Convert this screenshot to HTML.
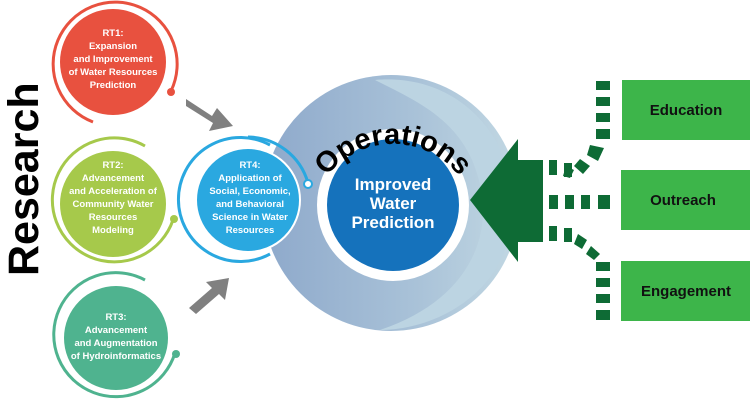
<!DOCTYPE html>
<html><head><style>
html,body{margin:0;padding:0;background:#fff;}
svg{display:block;font-family:"Liberation Sans",sans-serif;}
</style></head><body>
<svg width="750" height="400" viewBox="0 0 750 400">
<defs>
<linearGradient id="g1" x1="0" y1="0" x2="1" y2="0">
<stop offset="0" stop-color="#8ea9cb"/><stop offset="0.6" stop-color="#a9c2d8"/><stop offset="1" stop-color="#c2d8e3"/>
</linearGradient>
<path id="arc" d="M 310 215 A 84 84 0 0 1 476 215"/>
</defs>

<!-- Research -->
<text transform="translate(38,276) rotate(-90)" font-size="43" font-weight="bold" fill="#000">Research</text>

<!-- RT1 -->
<path d="M 93 122 A 62 62 0 1 1 171 91" fill="none" stroke="#e8513f" stroke-width="3"/>
<circle cx="171" cy="92" r="4" fill="#e8513f"/>
<circle cx="113" cy="62" r="53" fill="#e8513f"/>
<g fill="#fff" font-size="9.5" font-weight="bold" text-anchor="middle">
<text x="113" y="36">RT1:</text><text x="113" y="49">Expansion</text><text x="113" y="62">and Improvement</text><text x="113" y="75">of Water Resources</text><text x="113" y="88">Prediction</text>
</g>

<!-- RT2 -->
<path d="M 145 146 A 62 62 0 1 0 173 220" fill="none" stroke="#a6c94b" stroke-width="3"/>
<circle cx="174" cy="219" r="4" fill="#a6c94b"/>
<circle cx="113" cy="204" r="53" fill="#a6c94b"/>
<g fill="#fff" font-size="9.5" font-weight="bold" text-anchor="middle">
<text x="113" y="168">RT2:</text><text x="113" y="181">Advancement</text><text x="113" y="194">and Acceleration of</text><text x="113" y="207">Community Water</text><text x="113" y="220">Resources</text><text x="113" y="233">Modeling</text>
</g>

<!-- RT3 -->
<path d="M 145 280 A 62 62 0 1 0 175 353" fill="none" stroke="#4fb38f" stroke-width="3"/>
<circle cx="176" cy="354" r="4" fill="#4fb38f"/>
<circle cx="116" cy="338" r="52" fill="#4fb38f"/>
<g fill="#fff" font-size="9.5" font-weight="bold" text-anchor="middle">
<text x="116" y="320">RT3:</text><text x="116" y="333">Advancement</text><text x="116" y="346">and Augmentation</text><text x="116" y="359">of Hydroinformatics</text>
</g>

<!-- gray arrows -->
<path d="M 186 99 L 212 116 L 217 108 L 233 126 L 209 131 L 213 123 L 186 106 Z" fill="#808080"/>
<path d="M 189 308 L 212 288 L 206 282 L 229 278 L 225 300 L 219 294 L 196 314 Z" fill="#808080"/>

<!-- Operations disc -->
<circle cx="391" cy="203" r="128" fill="url(#g1)"/>
<path d="M 375 80 C 465 72 530 150 508 240 C 492 300 430 330 380 330 C 470 300 502 230 472 160 C 452 115 410 98 375 80 Z" fill="#bcd4e2"/>
<circle cx="393" cy="205" r="76" fill="#fff"/>
<circle cx="393" cy="205" r="66" fill="#1572bc"/>
<text font-size="29" font-weight="bold" fill="#000"><textPath href="#arc" startOffset="50%" text-anchor="middle">Operations</textPath></text>
<g fill="#fff" font-size="17" font-weight="bold" text-anchor="middle">
<text x="393" y="190">Improved</text><text x="393" y="209">Water</text><text x="393" y="228">Prediction</text>
</g>

<!-- RT4 -->
<path d="M 270 145 A 62 62 0 1 0 270 254" fill="none" stroke="#2aa8e0" stroke-width="3"/>
<path d="M 248 137 A 63 63 0 0 1 308 183" fill="none" stroke="#2aa8e0" stroke-width="3"/>
<circle cx="308" cy="184" r="4" fill="#fff" stroke="#2aa8e0" stroke-width="2"/>
<circle cx="248" cy="200" r="52" fill="#2aa8e0" stroke="#fff" stroke-width="2"/>
<g fill="#fff" font-size="9.5" font-weight="bold" text-anchor="middle">
<text x="250" y="168">RT4:</text><text x="250" y="181">Application of</text><text x="250" y="194">Social, Economic,</text><text x="250" y="207">and Behavioral</text><text x="250" y="220">Science in Water</text><text x="250" y="233">Resources</text>
</g>

<!-- green arrow -->
<path d="M 470 200 L 518 139 L 518 160 L 543 160 L 543 242 L 518 242 L 518 262 Z" fill="#0e6b35"/>

<!-- dashes -->
<g fill="#0e6b35">
<rect x="596" y="81" width="14" height="9"/><rect x="596" y="97" width="14" height="9"/><rect x="596" y="113" width="14" height="9"/><rect x="596" y="129" width="14" height="10"/>
<path d="M 590 145 L 604 148 L 598 161 L 587 155 Z"/>
<path d="M 580 159 L 590 166 L 583 174 L 574 166 Z"/>
<path d="M 566 166 L 574 170 L 570 178 L 563 176 Z"/>
<rect x="549" y="160" width="8" height="15"/><rect x="564" y="163" width="8" height="14"/>
<rect x="549" y="195" width="9" height="14"/><rect x="565" y="195" width="9" height="14"/><rect x="581" y="195" width="9" height="14"/><rect x="598" y="195" width="12" height="14"/>
<rect x="549" y="226" width="8" height="15"/><rect x="564" y="228" width="8" height="14"/>
<path d="M 578 234 L 587 240 L 582 249 L 574 244 Z"/>
<path d="M 591 246 L 600 254 L 594 260 L 586 254 Z"/>
<rect x="596" y="262" width="14" height="9"/><rect x="596" y="278" width="14" height="9"/><rect x="596" y="294" width="14" height="9"/><rect x="596" y="310" width="14" height="10"/>
</g>

<!-- green boxes -->
<g fill="#3db54a">
<rect x="622" y="80" width="128" height="60"/><rect x="621" y="170" width="129" height="60"/><rect x="621" y="261" width="129" height="60"/>
</g>
<g fill="#111" font-size="15" font-weight="bold" text-anchor="middle">
<text x="686" y="115">Education</text><text x="683" y="205">Outreach</text><text x="686" y="296">Engagement</text>
</g>
</svg>
</body></html>
